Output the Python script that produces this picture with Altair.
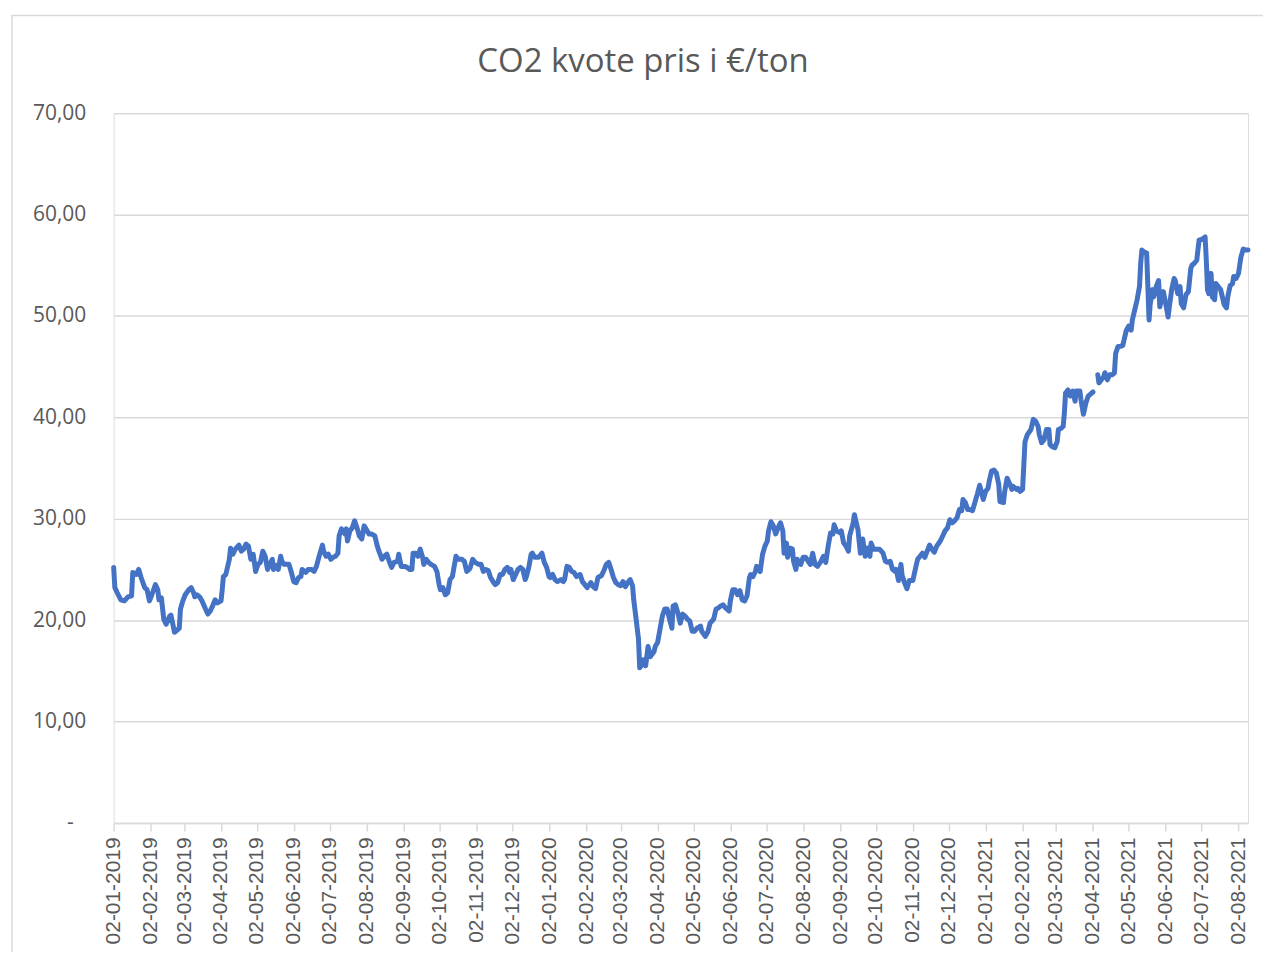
import altair as alt
import pandas as pd

START_DATE = "2019-01-02"
END_DATE = "2021-08-10"
GAP_AFTER_DAY = 822

# days since 2019-01-02
day_offsets = [
    0, 1, 3, 6, 9, 12, 15, 16, 19, 21, 23, 26, 28, 30, 32, 35, 37, 38, 40, 42, 44, 47, 48, 51, 53, 55, 56, 58, 60, 63,
    65, 67, 68, 70, 72, 74, 77, 79, 81, 83, 85, 87, 90, 91, 92, 94, 97, 98, 100, 102, 105, 107, 109, 111, 113, 115, 117,
    119, 121, 123, 125, 127, 129, 131, 133, 134, 136, 138, 140, 141, 143, 147, 149, 151, 153, 155, 157, 158, 161, 163,
    166, 168, 170, 172, 175, 176, 178, 180, 182, 184, 186, 188, 189, 191, 194, 195, 196, 198, 200, 202, 204, 206, 208,
    210, 212, 214, 216, 219, 221, 223, 225, 227, 229, 231, 233, 235, 238, 239, 241, 244, 246, 248, 250, 251, 253, 255,
    257, 259, 260, 262, 264, 266, 269, 271, 273, 274, 276, 278, 280, 282, 284, 285, 287, 289, 292, 294, 296, 298, 299,
    301, 303, 306, 308, 310, 312, 314, 316, 318, 320, 322, 324, 326, 328, 330, 332, 333, 335, 337, 339, 341, 343, 345,
    346, 348, 350, 351, 353, 356, 357, 359, 361, 363, 365, 366, 368, 370, 372, 375, 377, 378, 380, 382, 384, 386, 388,
    391, 393, 395, 397, 400, 402, 404, 406, 409, 411, 413, 415, 417, 419, 421, 423, 425, 427, 429, 431, 433, 435, 436,
    438, 440, 441, 443, 444, 446, 448, 450, 453, 454, 456, 458, 460, 462, 464, 466, 468, 469, 471, 473, 475, 477, 479,
    481, 483, 485, 487, 489, 492, 493, 496, 498, 500, 503, 505, 507, 509, 511, 513, 516, 517, 519, 521, 523, 525, 527,
    529, 531, 533, 534, 536, 538, 539, 542, 544, 546, 548, 549, 551, 553, 555, 557, 559, 561, 562, 564, 565, 567, 569,
    570, 572, 573, 576, 578, 580, 584, 586, 588, 590, 593, 595, 597, 599, 601, 603, 604, 606, 609, 610, 612, 614, 616,
    617, 620, 621, 622, 624, 626, 628, 630, 632, 634, 635, 637, 640, 642, 645, 647, 649, 651, 653, 655, 656, 658, 660,
    661, 663, 665, 667, 670, 672, 674, 676, 678, 680, 682, 684, 686, 688, 690, 693, 695, 697, 699, 701, 703, 705, 707,
    709, 711, 712, 714, 716, 718, 720, 722, 724, 726, 728, 729, 731, 733, 734, 736, 738, 740, 742, 743, 746, 747, 749,
    751, 753, 754, 757, 758, 760, 762, 764, 766, 769, 771, 773, 775, 776, 778, 780, 782, 784, 785, 787, 789, 791, 792,
    794, 796, 797, 798, 800, 802, 804, 806, 807, 810, 811, 813, 815, 817, 818, 821,
    825, 826, 828, 830, 831, 833, 835, 837, 839, 840, 842, 844, 846, 847, 849, 851, 853, 854, 856, 858, 860, 861, 862,
    864, 866, 867, 868, 869, 871, 872, 874, 876, 877, 879, 880, 882, 884, 885, 887, 889, 890, 892, 894, 895, 897, 899,
    901, 903, 904, 906, 908, 910, 911, 913, 915, 916, 917, 918, 920, 921, 923, 924, 926, 928, 929, 931, 933, 934, 936,
    938, 939, 941, 943, 944, 945, 946, 947, 949, 951,
]

prices = [
    25.2, 23.2, 22.7, 22.0, 21.9, 22.3, 22.4, 24.7, 24.5, 25.0, 24.2, 23.2, 23.0, 21.9, 22.5, 23.5, 23.0, 22.0, 22.2,
    20.1, 19.6, 20.4, 20.5, 18.8, 19.0, 19.2, 21.1, 21.9, 22.5, 23.0,
    23.2, 22.7, 22.3, 22.5, 22.3, 21.9, 21.1, 20.6, 20.9, 21.4, 22.0, 21.7, 21.9, 23.0, 24.3, 24.5, 26.0, 27.1, 26.5,
    27.0, 27.4, 26.8, 27.0, 27.5, 27.3, 26.0, 26.5,
    24.8, 25.5, 25.7, 26.8, 26.3, 25.0, 25.5, 26.0, 25.0, 25.4, 25.0, 26.3, 25.8, 25.5, 25.5, 24.7, 23.8, 23.7, 24.2,
    24.3, 25.0, 24.7, 25.0,
    25.0, 24.8, 25.3, 26.2, 27.4, 26.8, 26.3, 26.5, 26.0, 26.2, 26.3, 26.6, 28.3, 29.0, 28.5, 29.0, 27.8, 28.8, 29.1,
    29.8, 29.1, 28.3, 28.0,
    29.3, 28.9, 28.5, 28.5, 28.3, 27.3, 26.6, 26.0, 26.3, 26.5, 25.8, 25.2, 25.7, 25.8, 26.5, 25.3, 25.3, 25.2, 25.0,
    25.0, 26.6, 26.6, 26.3,
    27.0, 26.2, 25.5, 26.0, 25.7, 25.5, 25.3, 24.8, 23.4, 23.0, 23.2, 22.5, 22.7, 24.0, 24.3, 25.0, 26.3, 26.0, 26.0,
    25.8, 24.8, 25.0, 25.2,
    26.0, 25.7, 25.5, 25.5, 24.8, 25.0, 24.9, 24.2, 23.8, 23.5, 23.7, 24.5, 24.5, 25.0, 25.2, 24.7, 25.0, 24.0, 24.5,
    25.0, 25.2, 25.0, 24.0,
    24.3, 25.2, 26.5, 26.6, 26.2, 26.2, 26.3, 26.6, 25.7, 25.2, 24.3, 24.2, 24.5, 24.0, 23.8, 24.0, 23.8, 24.0, 25.3,
    25.2, 24.8, 24.7, 24.3,
    24.5, 23.8, 23.5, 23.2, 23.7, 23.3, 23.1, 24.2, 24.4, 24.9, 25.5, 25.7, 25.0, 24.2, 23.7, 23.5, 23.4, 23.8, 23.3,
    23.7, 24.0, 23.4, 22.0,
    20.1, 18.1, 15.3, 15.6, 16.1, 15.5, 17.4, 16.4, 16.9, 17.4, 17.8, 19.1, 20.4, 21.1, 21.1, 20.1, 19.2, 21.4, 21.5,
    20.7, 19.7, 20.6, 20.4,
    20.1, 19.9, 18.9, 18.9, 19.2, 19.4, 18.9, 18.4, 18.8, 19.7, 20.1, 21.1, 21.2, 21.4, 21.5, 21.2, 20.9, 21.9, 23.0,
    23.0, 22.5, 22.9, 22.0,
    21.9, 22.4, 24.2, 24.5, 24.3, 24.8, 25.3, 24.8, 26.5, 27.3, 27.8, 28.8, 29.7, 29.3, 28.5, 29.1, 29.6, 28.8, 26.6,
    27.6, 26.2, 27.1, 27.0,
    25.8, 25.0, 26.0, 25.5, 26.2, 26.2, 25.5, 26.6, 25.5, 25.3, 25.8, 26.3, 25.7, 27.3, 28.6, 28.5, 29.4, 28.8, 28.6,
    28.8, 27.6, 27.3, 26.8,
    28.3, 29.6, 30.4, 29.9, 28.9, 26.6, 28.0, 26.3, 27.1, 26.3, 27.6, 27.0, 27.0, 27.0, 26.6, 25.8, 25.7, 25.8, 25.0,
    24.8, 25.0, 23.9, 25.5,
    24.4, 23.7, 23.1, 23.9, 23.9, 25.0, 26.0, 26.3, 26.6, 26.2, 26.8, 27.4, 27.0, 26.7, 27.3, 27.8, 28.3, 28.8, 29.1,
    29.9, 29.6, 29.8, 30.1,
    30.9, 30.8, 31.9, 31.6, 30.9, 30.9, 30.8, 31.6, 32.4, 33.3, 32.4, 31.9, 32.7, 33.0, 33.7, 34.7, 34.8, 34.5, 33.4,
    31.7, 31.6, 32.7, 34.0,
    33.5, 32.9, 33.2, 32.9, 33.0, 32.7, 32.9, 37.6, 38.3, 38.8, 39.8, 39.6, 39.1, 38.3, 37.5, 37.8, 38.8, 38.8, 37.3,
    37.1, 37.0, 37.6, 38.8,
    38.9, 39.1, 40.4, 42.4, 42.7, 42.1, 42.6, 41.6, 42.6, 42.6, 41.7, 40.3, 41.4, 42.1, 42.2, 42.5,
    44.2, 43.4, 43.7, 44.0, 44.4, 43.7, 44.2, 44.2, 44.4, 46.3, 47.0, 47.0, 47.1, 47.6, 48.6, 49.0, 48.6, 49.6, 50.6,
    51.6, 52.9, 55.2, 56.5,
    56.3, 56.2, 52.9, 49.6, 51.2, 52.6, 51.9, 52.9, 53.5, 50.9, 51.9, 52.4, 51.2, 49.9, 50.9, 52.6, 53.7, 53.5, 52.2,
    52.9, 51.2, 50.8, 52.1,
    52.4, 54.7, 55.0, 55.2, 55.5, 57.5, 57.5, 57.6, 57.8, 55.5, 52.6, 52.2, 54.2, 51.9, 51.6, 53.2, 52.9, 52.6, 52.1,
    51.1, 50.8, 51.9, 53.0,
    53.2, 53.9, 53.7, 54.2, 55.0, 55.8, 56.2, 56.6, 56.5, 56.5,
]

tick_dates = [
    "2019-01-02", "2019-02-02", "2019-03-02", "2019-04-02", "2019-05-02", "2019-06-02", "2019-07-02", "2019-08-02",
    "2019-09-02", "2019-10-02", "2019-11-02", "2019-12-02", "2020-01-02", "2020-02-02", "2020-03-02", "2020-04-02",
    "2020-05-02", "2020-06-02", "2020-07-02", "2020-08-02", "2020-09-02", "2020-10-02", "2020-11-02", "2020-12-02",
    "2021-01-02", "2021-02-02", "2021-03-02", "2021-04-02", "2021-05-02", "2021-06-02", "2021-07-02", "2021-08-02",
]
y_ticks = [0, 10, 20, 30, 40, 50, 60, 70]
zero_label = "-"
title_text = "CO2 kvote pris i €/ton"

start = pd.Timestamp(START_DATE)
df = pd.DataFrame({
    "date": [(start + pd.Timedelta(days=d)).strftime("%Y-%m-%d") for d in day_offsets],
    "price": prices,
    "segment": ["a" if d <= GAP_AFTER_DAY else "b" for d in day_offsets],
})


def to_dt(s):
    y, m, d = (int(p) for p in s.split("-"))
    return alt.DateTime(year=y, month=m, date=d, utc=True)


tick_values = [to_dt(t) for t in tick_dates]
x_domain = [to_dt(START_DATE), to_dt(END_DATE)]

GRAY = "#d9d9d9"
TXT = "#595959"

y_scale = alt.Scale(domain=[0, 70], nice=False, zero=True)

line = alt.Chart(df).mark_line(
    color="#4472C4", strokeWidth=5, strokeJoin="round", strokeCap="round"
).encode(
    x=alt.X(
        "date:T",
        scale=alt.Scale(type="utc", domain=x_domain),
        axis=alt.Axis(
            values=tick_values, labelExpr="utcFormat(datum.value, '%d-%m-%Y')", labelAngle=270,
            labelAlign="right", labelBaseline="middle", labelOverlap=False, labelFlush=False,
            labelFont="Liberation Sans", labelFontSize=21, labelColor=TXT, labelPadding=6,
            domainColor=GRAY, domainWidth=1.5, tickColor=GRAY, tickSize=8, tickWidth=1.5,
            grid=False, title=None,
        ),
    ),
    y=alt.Y(
        "price:Q",
        scale=y_scale,
        axis=alt.Axis(
            values=y_ticks,
            labelExpr="datum.value == 0 ? '' : replace(format(datum.value, '.2f'), '.', ',')",
            domain=False, ticks=False, grid=True, gridColor=GRAY, gridWidth=1.5,
            labelFont="Open Sans", labelFontSize=21, labelColor=TXT, labelPadding=28, title=None,
        ),
    ),
    detail="segment:N",
)

# Excel accounting-style "-" label for zero, sitting left of the other labels
zero_text = alt.Chart(alt.Data(values=[{"v": 0}])).mark_text(
    font="Open Sans", fontSize=21, color=TXT, align="right", baseline="middle"
).encode(
    x=alt.value(-40), y=alt.Y("v:Q", scale=y_scale), text=alt.value(zero_label)
)

border = alt.Chart(alt.Data(values=[{"k": 1}])).mark_rect(
    filled=False, stroke=GRAY, strokeWidth=1.5
).encode(
    x=alt.value(-102), x2=alt.value(1300), y=alt.value(-98), y2=alt.value(1000)
)

title = alt.Chart(alt.Data(values=[{"k": 1}])).mark_text(
    font="Open Sans", fontSize=33, fontWeight="normal", color=TXT, align="center", baseline="alphabetic"
).encode(
    x=alt.value(531), y=alt.value(-41), text=alt.value(title_text)
)

chart = alt.layer(border, title, line, zero_text).properties(
    width=1138,
    height=712,
    padding={"left": 106, "top": 104, "right": 15, "bottom": 128},
    autosize=alt.AutoSizeParams(type="none"),
).configure_view(strokeWidth=0, stroke="transparent").configure(background="white")

chart.save("out.html", embed_options={"renderer": "svg", "actions": False})
